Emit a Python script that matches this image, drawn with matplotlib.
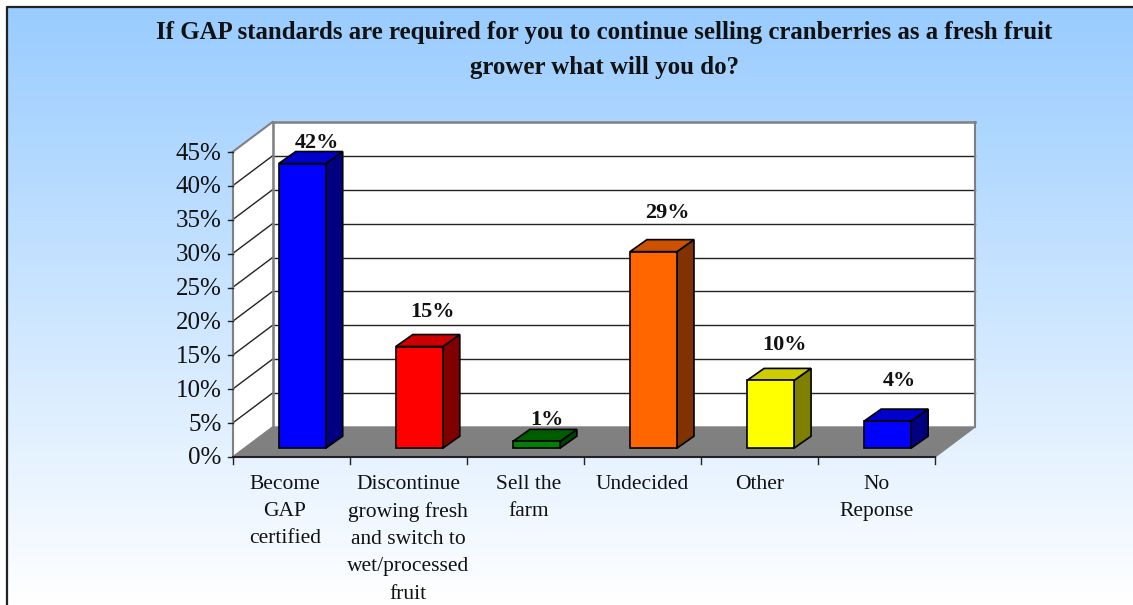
import numpy as np
import matplotlib
matplotlib.use("Agg")
import matplotlib.pyplot as plt
from matplotlib.patches import Polygon, Rectangle

plt.rcParams['font.family'] = ['Liberation Serif', 'DejaVu Serif']

categories = ['Become\nGAP\ncertified', 'Discontinue\ngrowing fresh\nand switch to\nwet/processed\nfruit',
              'Sell the\nfarm', 'Undecided', 'Other', 'No\nReponse']
values = [42, 15, 1, 29, 10, 4]
labels = ['42%', '15%', '1%', '29%', '10%', '4%']
yticks = [0, 5, 10, 15, 20, 25, 30, 35, 40, 45]
front = ['#0000ff', '#ff0000', '#008000', '#ff6600', '#ffff00', '#0000ff']
top = ['#0000cc', '#cc0000', '#005c00', '#cc5200', '#cccc00', '#0000cc']
side = ['#000080', '#800000', '#004000', '#803300', '#808000', '#000080']
title = 'If GAP standards are required for you to continue selling cranberries as a fresh fruit\ngrower what will you do?'

# the value labels were placed by hand in the original chart (pixels above the bar)
label_gap = [9, 23, 9, 27, 23, 28]
label_shift = [6, 5, 2, 5, 5, 3]
cat_shift = [-6, 0, 3, 0, 0, 0]

W, H = 1133, 605
fig = plt.figure(figsize=(W/100, H/100), dpi=100, facecolor='white')

# background gradient with the thin black frame
bg = fig.add_axes([0, 0, 1, 1])
grad = np.linspace(0, 1, 256).reshape(-1, 1, 1)
c1 = np.array([0x99, 0xcc, 0xff]) / 255
img = c1 * (1 - grad) + np.array([1, 1, 1]) * grad
bg.imshow(img, extent=[7, W, 605, 8], aspect='auto')
bg.set_xlim(0, W); bg.set_ylim(H, 0); bg.axis('off')
bg.plot([6.5, 6.5, W], [H, 7, 7], color='#222222', lw=1.6)

# main axes: x in categories, y in percent
ax = fig.add_axes([232.5/W, 1-457/H, (935-232.5)/W, (457-152)/H])
ax.set_xlim(0, 6); ax.set_ylim(0, 45)
ax.patch.set_alpha(0)
for s in ax.spines.values():
    s.set_visible(False)
ax.set_xticks([]); ax.set_yticks([])

px_x = 702.5 / 6
px_y = 305 / 45
dx, dy = 40 / px_x, 30 / px_y
grey = '#808080'

# walls and floor
ax.add_patch(Polygon([(0, 0), (dx, dy), (dx, 45+dy), (0, 45)], fc='white', ec='none', clip_on=False))
ax.add_patch(Rectangle((dx, dy), 6, 45, fc='white', ec='none', clip_on=False))
ax.add_patch(Polygon([(0, 0), (6, 0), (6+dx, dy), (dx, dy)], fc=grey, ec=grey, lw=1, clip_on=False))
for t in yticks[1:-1]:
    ax.plot([dx, 6+dx], [t+dy, t+dy], color='#222222', lw=1.0, clip_on=False)
    ax.plot([0, dx], [t, t+dy], color='#222222', lw=1.0, clip_on=False)
ax.plot([0, dx], [45, 45+dy], color=grey, lw=1.5, clip_on=False)
ax.plot([dx, dx], [dy, 45+dy], color=grey, lw=1.8, clip_on=False)
ax.plot([6+dx, 6+dx], [dy, 45+dy], color=grey, lw=1.5, clip_on=False)
ax.plot([dx, 6+dx], [45+dy, 45+dy], color=grey, lw=1.8, clip_on=False)

# axis lines and ticks
ax.plot([0, 0], [0, 45], color=grey, lw=1.5, clip_on=False)
ax.plot([0, 6], [0, 0], color='#222222', lw=1.5, clip_on=False)
for t in yticks:
    ax.plot([-5/px_x, 0], [t, t], color='#222222', lw=1.0, clip_on=False)
    ax.text(-11/px_x, t - 1.5/px_y, f'{t}%', ha='right', va='center', fontsize=18, color='#111111')
for i in range(7):
    ax.plot([i, i], [0, -7/px_y], color='#222222', lw=1.0, clip_on=False)

# bars
bw = 47 / px_x
off_x, off_y = 0.317*dx, 0.317*dy - 0.7/px_y
bdx, bdy = 17 / px_x, 12 / px_y
for i, v in enumerate(values):
    x0 = i + 0.5 - bw/2 + off_x - 1.5/px_x
    y0 = off_y
    x1 = x0 + bw
    ax.add_patch(Polygon([(x1, y0), (x1+bdx, y0+bdy), (x1+bdx, y0+bdy+v), (x1, y0+v)],
                         fc=side[i], ec='black', lw=1.2, clip_on=False, zorder=3))
    ax.add_patch(Polygon([(x0, y0+v), (x1, y0+v), (x1+bdx, y0+v+bdy), (x0+bdx, y0+v+bdy)],
                         fc=top[i], ec='black', lw=1.2, clip_on=False, zorder=3))
    ax.add_patch(Rectangle((x0, y0), bw, v, fc=front[i], ec='black', lw=1.2, clip_on=False, zorder=4))
    ax.text(x0 + (bw + bdx)/2 + label_shift[i]/px_x, y0 + v + bdy + label_gap[i]/px_y, labels[i],
            ha='center', va='center', fontsize=16, fontweight='bold', color='#111111', zorder=5)
    ax.text(i + 0.5 + cat_shift[i]/px_x, -2.6, categories[i], ha='center', va='top', fontsize=15.5,
            color='#111111', linespacing=1.58, multialignment='center')

fig.text(604/W, 1-50/H, title, ha='center', va='center', fontsize=17.9, fontweight='bold',
         color='#111111', linespacing=1.72)

fig.savefig('out.png', dpi=100)
